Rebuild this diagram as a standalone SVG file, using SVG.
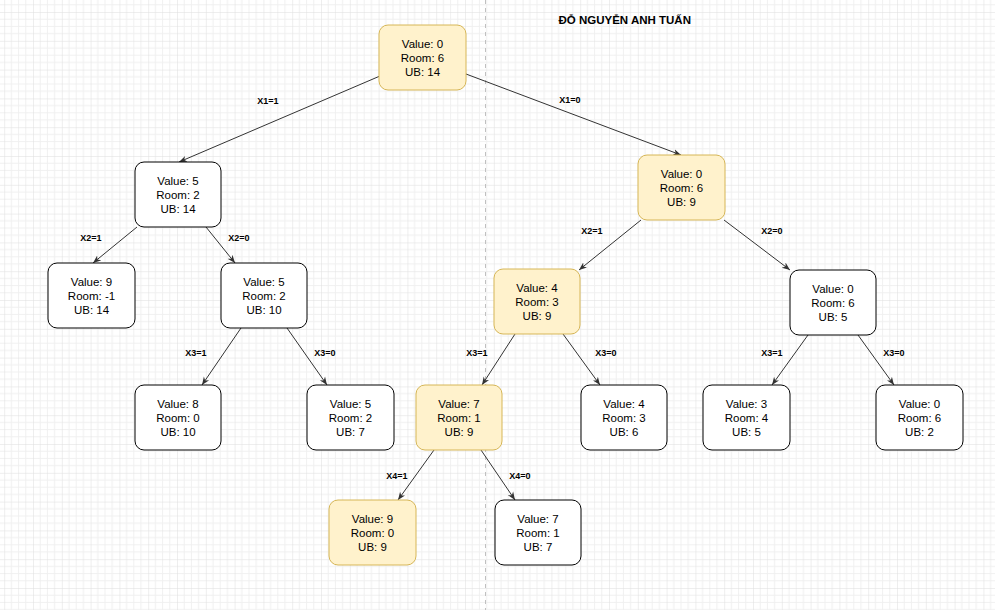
<svg xmlns="http://www.w3.org/2000/svg" width="995" height="610" viewBox="0 0 995 610">
<style>
.n rect{stroke-width:1}
.w rect{fill:#ffffff;stroke:#000000}
.y rect{fill:#fff2cc;stroke:#d6b656}
.n text{font-family:"Liberation Sans",Arial,sans-serif;font-size:11.5px;fill:#000;text-anchor:middle}
.lbl{font-family:"Liberation Sans",Arial,sans-serif;font-size:9px;font-weight:bold;fill:#000;text-anchor:middle}
.e line{stroke:#333333;stroke-width:1;marker-end:url(#arr)}
</style>
<defs>
<pattern id="grid" width="28.8" height="28.8" x="4.2" y="12" patternUnits="userSpaceOnUse">
<path d="M7.2 0V28.8M14.4 0V28.8M21.6 0V28.8M0 7.2H28.8M0 14.4H28.8M0 21.6H28.8" stroke="#f0f0f0" stroke-width="1" fill="none"/>
<path d="M0 0V28.8M0 0H28.8" stroke="#dedede" stroke-width="1" fill="none"/>
</pattern>
<marker id="arr" viewBox="0 0 10 10" refX="10" refY="5" markerWidth="8" markerHeight="8" markerUnits="userSpaceOnUse" orient="auto">
<path d="M0,1 L10,5 L0,9 L3,5 Z" fill="#333333"/>
</marker>
</defs>
<rect width="995" height="610" fill="#ffffff"/>
<rect width="995" height="610" fill="url(#grid)"/>
<line x1="485.5" y1="0" x2="485.5" y2="610" stroke="#c0c0c0" stroke-width="1" stroke-dasharray="4 4"/>
<text x="558.5" y="24" style="font-family:'Liberation Sans',Arial,sans-serif;font-size:11.5px;font-weight:bold;fill:#000">ĐỖ NGUYỄN ANH TUẤN</text>

<g id="edges" class="e">
<line x1="380" y1="76" x2="179" y2="162"/>
<line x1="466" y1="74" x2="681" y2="155"/>
<line x1="137" y1="227" x2="93" y2="263"/>
<line x1="206" y1="227" x2="235" y2="263"/>
<line x1="241" y1="328" x2="202" y2="385"/>
<line x1="287" y1="328" x2="327" y2="385"/>
<line x1="641" y1="220" x2="579" y2="270"/>
<line x1="724" y1="220" x2="790" y2="270"/>
<line x1="515" y1="334" x2="482" y2="385"/>
<line x1="563" y1="334" x2="600" y2="385"/>
<line x1="808" y1="335" x2="772" y2="385"/>
<line x1="858" y1="335" x2="894" y2="385"/>
<line x1="434" y1="450" x2="398" y2="500"/>
<line x1="481" y1="450" x2="515" y2="500"/>
</g>

<g id="labels">
<text class="lbl" x="268" y="104">X1=1</text>
<text class="lbl" x="570" y="103">X1=0</text>
<text class="lbl" x="91" y="241">X2=1</text>
<text class="lbl" x="239" y="241">X2=0</text>
<text class="lbl" x="196" y="356">X3=1</text>
<text class="lbl" x="325" y="356">X3=0</text>
<text class="lbl" x="592" y="234">X2=1</text>
<text class="lbl" x="772" y="234">X2=0</text>
<text class="lbl" x="477" y="356">X3=1</text>
<text class="lbl" x="606" y="356">X3=0</text>
<text class="lbl" x="772" y="356">X3=1</text>
<text class="lbl" x="894" y="356">X3=0</text>
<text class="lbl" x="397" y="479">X4=1</text>
<text class="lbl" x="520" y="479">X4=0</text>
</g>

<g id="n1" class="n y"><rect x="379" y="25" width="87" height="65" rx="9"/><text x="422.5" y="47.5">Value: 0</text><text x="422.5" y="61.5">Room: 6</text><text x="422.5" y="76">UB: 14</text></g>
<g id="n2" class="n w"><rect x="135" y="162" width="86" height="65" rx="9"/><text x="178" y="184.5">Value: 5</text><text x="178" y="198.5">Room: 2</text><text x="178" y="213">UB: 14</text></g>
<g id="n3" class="n w"><rect x="48" y="263" width="87" height="65" rx="9"/><text x="91.5" y="285.5">Value: 9</text><text x="91.5" y="299.5">Room: -1</text><text x="91.5" y="314">UB: 14</text></g>
<g id="n4" class="n w"><rect x="221" y="263" width="86" height="65" rx="9"/><text x="264" y="285.5">Value: 5</text><text x="264" y="299.5">Room: 2</text><text x="264" y="314">UB: 10</text></g>
<g id="n5" class="n w"><rect x="135" y="385" width="86" height="65" rx="9"/><text x="178" y="407.5">Value: 8</text><text x="178" y="421.5">Room: 0</text><text x="178" y="436">UB: 10</text></g>
<g id="n6" class="n w"><rect x="307" y="385" width="87" height="65" rx="9"/><text x="350.5" y="407.5">Value: 5</text><text x="350.5" y="421.5">Room: 2</text><text x="350.5" y="436">UB: 7</text></g>
<g id="n7" class="n y"><rect x="638" y="155" width="87" height="65" rx="9"/><text x="681.5" y="177.5">Value: 0</text><text x="681.5" y="191.5">Room: 6</text><text x="681.5" y="206">UB: 9</text></g>
<g id="n8" class="n y"><rect x="494" y="269" width="86" height="65" rx="9"/><text x="537" y="291.5">Value: 4</text><text x="537" y="305.5">Room: 3</text><text x="537" y="320">UB: 9</text></g>
<g id="n9" class="n w"><rect x="790" y="270" width="86" height="65" rx="9"/><text x="833" y="292.5">Value: 0</text><text x="833" y="306.5">Room: 6</text><text x="833" y="321">UB: 5</text></g>
<g id="n10" class="n w"><rect x="703" y="385" width="87" height="65" rx="9"/><text x="746.5" y="407.5">Value: 3</text><text x="746.5" y="421.5">Room: 4</text><text x="746.5" y="436">UB: 5</text></g>
<g id="n11" class="n w"><rect x="876" y="385" width="87" height="65" rx="9"/><text x="919.5" y="407.5">Value: 0</text><text x="919.5" y="421.5">Room: 6</text><text x="919.5" y="436">UB: 2</text></g>
<g id="n12" class="n y"><rect x="416" y="385" width="86" height="65" rx="9"/><text x="459" y="407.5">Value: 7</text><text x="459" y="421.5">Room: 1</text><text x="459" y="436">UB: 9</text></g>
<g id="n13" class="n w"><rect x="581" y="385" width="86" height="65" rx="9"/><text x="624" y="407.5">Value: 4</text><text x="624" y="421.5">Room: 3</text><text x="624" y="436">UB: 6</text></g>
<g id="n14" class="n y"><rect x="329" y="500" width="87" height="65" rx="9"/><text x="372.5" y="522.5">Value: 9</text><text x="372.5" y="536.5">Room: 0</text><text x="372.5" y="551">UB: 9</text></g>
<g id="n15" class="n w"><rect x="495" y="500" width="86" height="65" rx="9"/><text x="538" y="522.5">Value: 7</text><text x="538" y="536.5">Room: 1</text><text x="538" y="551">UB: 7</text></g>
</svg>
